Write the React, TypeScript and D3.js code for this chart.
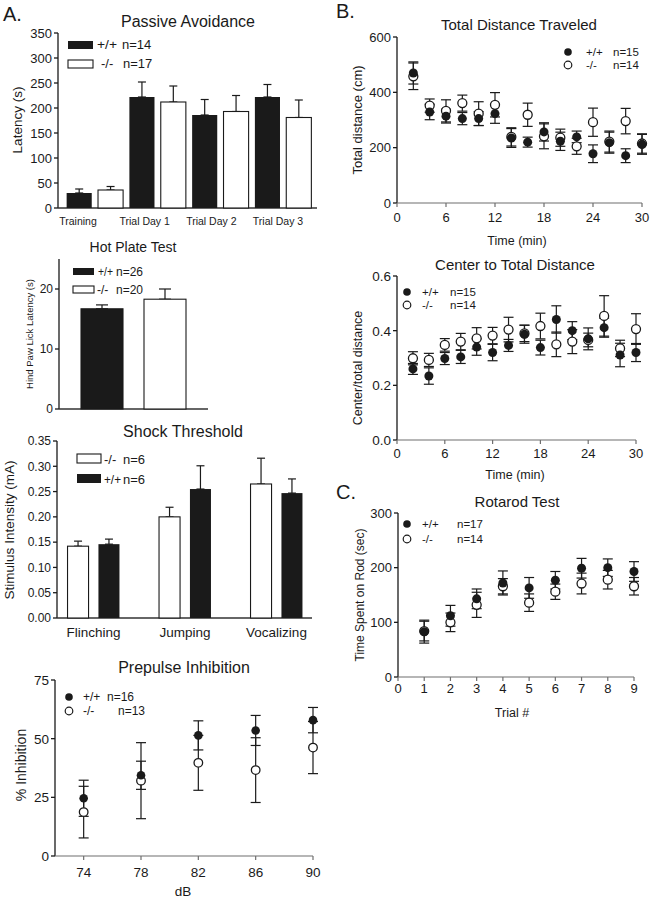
import React from "react";
import * as d3 from "d3";

const FONT = "'Liberation Sans', Arial, Helvetica, sans-serif";
const INK = "#1a1a1a";
const AXIS_GRAY = "#6f6f6f";

// ---------- Passive Avoidance ----------
const paCategories = ["Training", "Trial Day 1", "Trial Day 2", "Trial Day 3"];
const paWT = [30, 222, 186, 222];
const paWTErr = [8, 30, 31, 25];
const paKO = [36, 212, 193, 181];
const paKOErr = [7, 32, 32, 35];
const paTicks = [0, 50, 100, 150, 200, 250, 300, 350];

// ---------- Hot Plate ----------
const hpGroups = ["+/+", "-/-"];
const hpValues = [16.7, 18.3];
const hpErr = [0.65, 1.7];
const hpTicks = [0, 10, 20];

// ---------- Shock Threshold ----------
const stCategories = ["Flinching", "Jumping", "Vocalizing"];
const stKO = [0.142, 0.2, 0.265];
const stKOErr = [0.01, 0.019, 0.051];
const stWT = [0.146, 0.255, 0.247];
const stWTErr = [0.01, 0.046, 0.028];
const stTicks = [0, 0.05, 0.1, 0.15, 0.2, 0.25, 0.3, 0.35];

// ---------- Prepulse Inhibition ----------
const ppiDb = [74, 78, 82, 86, 90];
const ppiWT = [24.6, 34.4, 51.4, 53.5, 57.9];
const ppiWTErr = [7.7, 6.0, 6.2, 6.4, 5.4];
const ppiKO = [18.7, 32.1, 39.7, 36.6, 46.2];
const ppiKOErr = [11.0, 16.2, 11.7, 13.8, 11.1];
const ppiYTicks = [0, 25, 50, 75];

// ---------- Open field ----------
const ofTime = [2, 4, 6, 8, 10, 12, 14, 16, 18, 20, 22, 24, 26, 28, 30];
const tdWT = [470, 329, 314, 305, 305, 323, 235, 220, 257, 223, 239, 178, 218, 171, 212];
const tdWTErr = [40, 28, 25, 22, 25, 35, 34, 18, 33, 33, 21, 32, 38, 25, 36];
const tdKO = [458, 352, 333, 361, 323, 355, 239, 319, 241, 236, 205, 292, 222, 296, 215];
const tdKOErr = [48, 24, 40, 29, 43, 44, 33, 42, 45, 31, 29, 51, 38, 46, 35];
const tdYTicks = [0, 200, 400, 600];
const timeTicks = [0, 6, 12, 18, 24, 30];

const ctWT = [0.26, 0.234, 0.298, 0.304, 0.34, 0.32, 0.346, 0.387, 0.338, 0.441, 0.4, 0.37, 0.411, 0.311, 0.32];
const ctWTErr = [0.02, 0.03, 0.022, 0.024, 0.03, 0.03, 0.022, 0.033, 0.027, 0.05, 0.033, 0.04, 0.035, 0.043, 0.033];
const ctKO = [0.299, 0.293, 0.348, 0.36, 0.372, 0.382, 0.404, 0.39, 0.417, 0.35, 0.36, 0.366, 0.454, 0.335, 0.406];
const ctKOErr = [0.024, 0.024, 0.023, 0.03, 0.039, 0.03, 0.045, 0.03, 0.047, 0.045, 0.044, 0.025, 0.074, 0.03, 0.056];
const ctYTicks = [0, 0.2, 0.4, 0.6];

// ---------- Rotarod ----------
const rrTrial = [1, 2, 3, 4, 5, 6, 7, 8, 9];
const rrWT = [83, 112, 143, 172, 163, 177, 199, 200, 193];
const rrWTErr = [21, 19, 18, 22, 19, 16, 18, 16, 18];
const rrKO = [84, 100, 132, 166, 136, 156, 171, 178, 166];
const rrKOErr = [18, 17, 23, 14, 16, 14, 19, 17, 16];
const rrYTicks = [0, 100, 200, 300];
const rrXTicks = [0, 1, 2, 3, 4, 5, 6, 7, 8, 9];

type Lin = d3.ScaleLinear<number, number>;

function YAxis({ y, x, ticks, fmt, fs }: { y: Lin; x: number; ticks: number[]; fmt: (v: number) => string; fs: number }) {
  const [d0, d1] = y.domain();
  return (
    <g>
      <line x1={x} x2={x} y1={y(d1)} y2={y(d0)} stroke={INK} strokeWidth={1.3} />
      {ticks.map((t) => (
        <g key={t}>
          <line x1={x - 4} x2={x} y1={y(t)} y2={y(t)} stroke={INK} strokeWidth={1.3} />
          <text x={x - 6} y={y(t)} dy="0.36em" textAnchor="end" fontSize={fs}>
            {fmt(t)}
          </text>
        </g>
      ))}
    </g>
  );
}

function XAxisTicks({ x, y0, ticks, fs, labelY }: { x: Lin; y0: number; ticks: number[]; fs: number; labelY: number }) {
  const [d0, d1] = x.domain();
  return (
    <g>
      <line x1={x(d0)} x2={x(d1)} y1={y0} y2={y0} stroke={AXIS_GRAY} strokeWidth={1.2} />
      {ticks.map((t) => (
        <g key={t}>
          <line x1={x(t)} x2={x(t)} y1={y0} y2={y0 + 4} stroke={AXIS_GRAY} strokeWidth={1.2} />
          <text x={x(t)} y={labelY} textAnchor="middle" fontSize={fs}>
            {t}
          </text>
        </g>
      ))}
    </g>
  );
}

function VLabel({ x, y, fs, children }: { x: number; y: number; fs: number; children: React.ReactNode }) {
  return (
    <text transform={`translate(${x},${y}) rotate(-90)`} textAnchor="middle" fontSize={fs}>
      {children}
    </text>
  );
}

function ErrBar({ x, yTop, yBot, w = 4.5 }: { x: number; yTop: number; yBot: number; w?: number }) {
  return (
    <g stroke={INK} strokeWidth={1.2}>
      <line x1={x} x2={x} y1={yTop} y2={yBot} />
      <line x1={x - w} x2={x + w} y1={yTop} y2={yTop} />
      <line x1={x - w} x2={x + w} y1={yBot} y2={yBot} />
    </g>
  );
}

function Scatter({
  x, y, xs, wt, wtErr, ko, koErr, r = 4.5, cap = 5,
}: { x: Lin; y: Lin; xs: number[]; wt: number[]; wtErr: number[]; ko: number[]; koErr: number[]; r?: number; cap?: number }) {
  return (
    <g>
      {xs.map((t, i) => (
        <ErrBar key={"ke" + i} x={x(t)} yTop={y(ko[i] + koErr[i])} yBot={y(ko[i] - koErr[i])} w={cap} />
      ))}
      {xs.map((t, i) => (
        <ErrBar key={"we" + i} x={x(t)} yTop={y(wt[i] + wtErr[i])} yBot={y(wt[i] - wtErr[i])} w={cap} />
      ))}
      {xs.map((t, i) => (
        <circle key={"k" + i} cx={x(t)} cy={y(ko[i])} r={r} fill="#fff" stroke={INK} strokeWidth={1.3} />
      ))}
      {xs.map((t, i) => (
        <circle key={"w" + i} cx={x(t)} cy={y(wt[i])} r={r} fill={INK} />
      ))}
    </g>
  );
}

function DotLegend({ x, y, gap, tx, nX, wtN, koN, fs, koNX }: { x: number; y: number; gap: number; tx: number; nX: number; wtN: string; koN: string; fs: number; koNX?: number }) {
  return (
    <g fontSize={fs}>
      <circle cx={x} cy={y} r={3.8} fill={INK} />
      <text x={tx} y={y} dy="0.36em">+/+</text>
      <text x={nX} y={y} dy="0.36em">{wtN}</text>
      <circle cx={x} cy={y + gap} r={3.8} fill="#fff" stroke={INK} strokeWidth={1.2} />
      <text x={tx} y={y + gap} dy="0.36em">-/-</text>
      <text x={koNX ?? nX} y={y + gap} dy="0.36em">{koN}</text>
    </g>
  );
}

function PassiveAvoidance() {
  const y = d3.scaleLinear().domain([0, 350]).range([208, 33]);
  const gx = d3.scaleBand<string>().domain(paCategories).range([63.5, 314.5]).padding(0);
  const sx = d3.scaleBand<string>().domain(["wt", "ko"]).range([0, gx.bandwidth()]).paddingInner(0.2).paddingOuter(0.1);
  const lx = d3.scalePoint<string>().domain(paCategories).range([78, 278]);
  return (
    <g>
      <text x={3} y={21} fontSize={20}>A.</text>
      <text x={188} y={27} fontSize={16} textAnchor="middle">Passive Avoidance</text>
      <YAxis y={y} x={58} ticks={paTicks} fmt={(v) => String(v)} fs={13} />
      <line x1={58} x2={317} y1={y(0)} y2={y(0)} stroke="#333" strokeWidth={1.3} />
      {paCategories.map((c, i) => {
        const xw = gx(c)! + sx("wt")!;
        const xk = gx(c)! + sx("ko")!;
        const bw = sx.bandwidth();
        return (
          <g key={c}>
            <ErrBar x={xw + bw / 2} yTop={y(paWT[i] + paWTErr[i])} yBot={y(paWT[i])} w={4} />
            <ErrBar x={xk + bw / 2} yTop={y(paKO[i] + paKOErr[i])} yBot={y(paKO[i])} w={4} />
            <rect x={xw} y={y(paWT[i])} width={bw} height={y(0) - y(paWT[i])} fill={INK} />
            <rect x={xk} y={y(paKO[i])} width={bw} height={y(0) - y(paKO[i])} fill="#fff" stroke={INK} strokeWidth={1.1} />
            <text x={lx(c)} y={225} fontSize={10.5} textAnchor="middle">{c}</text>
          </g>
        );
      })}
      <rect x={68} y={41} width={25} height={8} fill={INK} />
      <text x={97} y={49} fontSize={13} textLength={20} lengthAdjust="spacingAndGlyphs">+/+</text>
      <text x={122} y={49} fontSize={13}>n=14</text>
      <rect x={68} y={60} width={25} height={8} fill="#fff" stroke={INK} strokeWidth={1.1} />
      <text x={101} y={68} fontSize={13}>-/-</text>
      <text x={123} y={68} fontSize={13}>n=17</text>
      <VLabel x={22} y={120} fs={13.5}>Latency (s)</VLabel>
    </g>
  );
}

function HotPlate() {
  const y = d3.scaleLinear().domain([0, 25]).range([409, 259]);
  const x = d3.scaleBand<string>().domain(hpGroups).range([70.5, 196.5]).paddingInner(1 / 3).paddingOuter(1 / 6);
  return (
    <g>
      <text x={133} y={252} fontSize={14} textAnchor="middle">Hot Plate Test</text>
      <YAxis y={y} x={59} ticks={hpTicks} fmt={(v) => String(v)} fs={12} />
      <line x1={59} x2={208} y1={y(0)} y2={y(0)} stroke="#333" strokeWidth={1.3} />
      {hpGroups.map((g, i) => (
        <g key={g}>
          <ErrBar x={x(g)! + x.bandwidth() / 2} yTop={y(hpValues[i] + hpErr[i])} yBot={y(hpValues[i])} w={6} />
          <rect x={x(g)} y={y(hpValues[i])} width={x.bandwidth()} height={y(0) - y(hpValues[i])}
            fill={i === 0 ? INK : "#fff"} stroke={INK} strokeWidth={1.1} />
        </g>
      ))}
      <rect x={73} y={268} width={21} height={7} fill={INK} />
      <text x={98} y={276} fontSize={12} textLength={15} lengthAdjust="spacingAndGlyphs">+/+</text>
      <text x={116} y={276} fontSize={12}>n=26</text>
      <rect x={73} y={286} width={21} height={7} fill="#fff" stroke={INK} strokeWidth={1.1} />
      <text x={97} y={294} fontSize={12}>-/-</text>
      <text x={116} y={294} fontSize={12}>n=20</text>
      <VLabel x={33} y={334} fs={9.5}>Hind Paw Lick Latency (s)</VLabel>
    </g>
  );
}

function ShockThreshold() {
  const y = d3.scaleLinear().domain([0, 0.35]).range([618, 441]);
  const gx = d3.scaleBand<string>().domain(stCategories).range([47.75, 322.25]).padding(0);
  const sx = d3.scaleBand<string>().domain(["ko", "wt"]).range([0, gx.bandwidth()]).paddingInner(0.32).paddingOuter(0.64);
  const bw = sx.bandwidth();
  return (
    <g>
      <text x={183} y={437} fontSize={16} textAnchor="middle">Shock Threshold</text>
      <YAxis y={y} x={57} ticks={stTicks} fmt={d3.format(".2f")} fs={12} />
      <line x1={57} x2={312} y1={y(0)} y2={y(0)} stroke="#333" strokeWidth={1.3} />
      {stCategories.map((c, i) => {
        const xk = gx(c)! + sx("ko")!;
        const xw = gx(c)! + sx("wt")!;
        return (
          <g key={c}>
            <ErrBar x={xk + bw / 2} yTop={y(stKO[i] + stKOErr[i])} yBot={y(stKO[i])} w={4} />
            <ErrBar x={xw + bw / 2} yTop={y(stWT[i] + stWTErr[i])} yBot={y(stWT[i])} w={4} />
            <rect x={xk} y={y(stKO[i])} width={bw} height={y(0) - y(stKO[i])} fill="#fff" stroke={INK} strokeWidth={1.1} />
            <rect x={xw} y={y(stWT[i])} width={bw} height={y(0) - y(stWT[i])} fill={INK} />
            <text x={gx(c)! + gx.bandwidth() / 2} y={637} fontSize={13.5} textAnchor="middle">{c}</text>
          </g>
        );
      })}
      <rect x={77} y={454} width={24} height={9} fill="#fff" stroke={INK} strokeWidth={1.1} />
      <text x={104} y={464} fontSize={13}>-/-</text>
      <text x={123} y={464} fontSize={13}>n=6</text>
      <rect x={77} y={474} width={24} height={9} fill={INK} />
      <text x={104} y={484} fontSize={13} textLength={17} lengthAdjust="spacingAndGlyphs">+/+</text>
      <text x={123} y={484} fontSize={13}>n=6</text>
      <VLabel x={14} y={530} fs={13.5}>Stimulus Intensity (mA)</VLabel>
    </g>
  );
}

function Prepulse() {
  const x = d3.scaleLinear().domain([72, 90]).range([55, 313]);
  const y = d3.scaleLinear().domain([0, 75]).range([856, 680]);
  return (
    <g>
      <text x={184} y={673} fontSize={16} textAnchor="middle">Prepulse Inhibition</text>
      <YAxis y={y} x={55} ticks={ppiYTicks} fmt={(v) => String(v)} fs={13.5} />
      <XAxisTicks x={x} y0={856} ticks={ppiDb} fs={13.5} labelY={877} />
      <Scatter x={x} y={y} xs={ppiDb} wt={ppiWT} wtErr={ppiWTErr} ko={ppiKO} koErr={ppiKOErr} r={4.3} cap={5} />
      <DotLegend x={69} y={697} gap={14} tx={83} nX={107} koNX={118} wtN="n=16" koN="n=13" fs={12} />
      <text x={183} y={896} fontSize={13.5} textAnchor="middle">dB</text>
      <VLabel x={26} y={765} fs={14}>% Inhibition</VLabel>
    </g>
  );
}

function TotalDistance() {
  const x = d3.scaleLinear().domain([0, 30]).range([397, 642]);
  const y = d3.scaleLinear().domain([0, 600]).range([203, 37]);
  return (
    <g>
      <text x={336} y={18} fontSize={20}>B.</text>
      <text x={519} y={30} fontSize={15} textAnchor="middle">Total Distance Traveled</text>
      <YAxis y={y} x={397} ticks={tdYTicks} fmt={(v) => String(v)} fs={13} />
      <XAxisTicks x={x} y0={203} ticks={timeTicks} fs={13} labelY={222} />
      <Scatter x={x} y={y} xs={ofTime} wt={tdWT} wtErr={tdWTErr} ko={tdKO} koErr={tdKOErr} />
      <DotLegend x={568} y={52} gap={13} tx={586} nX={613} wtN="n=15" koN="n=14" fs={11.5} />
      <text x={517} y={245} fontSize={12.5} textAnchor="middle">Time (min)</text>
      <VLabel x={362} y={120} fs={13}>Total distance (cm)</VLabel>
    </g>
  );
}

function CenterDistance() {
  const x = d3.scaleLinear().domain([0, 30]).range([397, 636]);
  const y = d3.scaleLinear().domain([0, 0.6]).range([440, 276]);
  return (
    <g>
      <text x={515} y={270} fontSize={15} textAnchor="middle">Center to Total Distance</text>
      <YAxis y={y} x={397} ticks={ctYTicks} fmt={d3.format(".1f")} fs={13.5} />
      <XAxisTicks x={x} y0={440} ticks={timeTicks} fs={13} labelY={458} />
      <Scatter x={x} y={y} xs={ofTime} wt={ctWT} wtErr={ctWTErr} ko={ctKO} koErr={ctKOErr} />
      <DotLegend x={407} y={292} gap={13} tx={422} nX={450} wtN="n=15" koN="n=14" fs={11.5} />
      <text x={515} y={479} fontSize={12.5} textAnchor="middle">Time (min)</text>
      <VLabel x={362} y={368} fs={12.5}>Center/total distance</VLabel>
    </g>
  );
}

function Rotarod() {
  const x = d3.scaleLinear().domain([0, 9]).range([398, 634]);
  const y = d3.scaleLinear().domain([0, 300]).range([677, 513]);
  return (
    <g>
      <text x={336} y={499} fontSize={20}>C.</text>
      <text x={517} y={507} fontSize={15} textAnchor="middle">Rotarod Test</text>
      <YAxis y={y} x={398} ticks={rrYTicks} fmt={(v) => String(v)} fs={13} />
      <XAxisTicks x={x} y0={677} ticks={rrXTicks} fs={13} labelY={693} />
      <Scatter x={x} y={y} xs={rrTrial} wt={rrWT} wtErr={rrWTErr} ko={rrKO} koErr={rrKOErr} />
      <DotLegend x={407} y={524} gap={15} tx={422} nX={457} wtN="n=17" koN="n=14" fs={11.5} />
      <text x={512} y={717} fontSize={12.5} textAnchor="middle">Trial #</text>
      <VLabel x={364} y={595} fs={12}>Time Spent on Rod (sec)</VLabel>
    </g>
  );
}

export default function App() {
  return (
    <svg
      width={650}
      height={900}
      viewBox="0 0 650 900"
      style={{ position: "absolute", left: 0, top: 0, background: "#fff" }}
      fontFamily={FONT}
      fill={INK}
    >
      <rect x={0} y={0} width={650} height={900} fill="#fff" />
      <PassiveAvoidance />
      <HotPlate />
      <ShockThreshold />
      <Prepulse />
      <TotalDistance />
      <CenterDistance />
      <Rotarod />
    </svg>
  );
}
